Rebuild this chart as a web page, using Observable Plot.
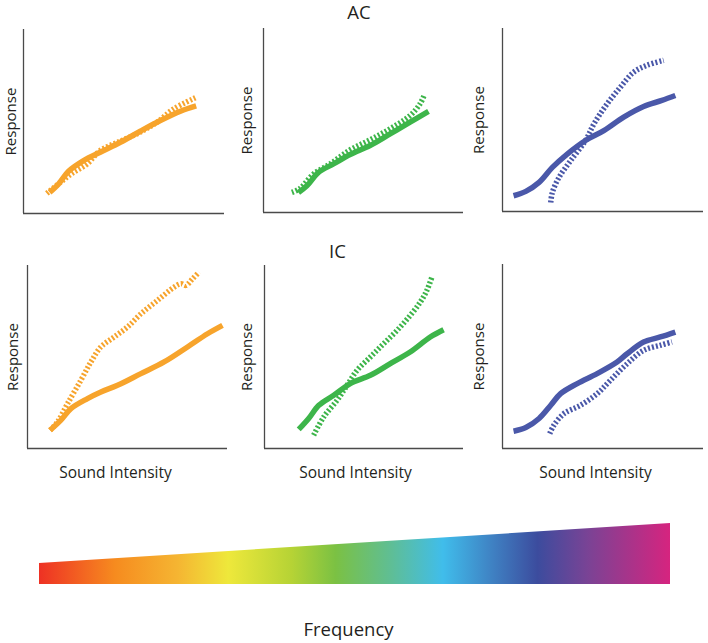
<!DOCTYPE html>
<html>
<head>
<meta charset="utf-8">
<script src="https://cdn.jsdelivr.net/npm/d3@7"></script>
<script src="https://cdn.jsdelivr.net/npm/@observablehq/plot@0.6"></script>
<style>
  html, body { margin: 0; padding: 0; background: #fff; }
  #root { position: relative; width: 708px; height: 643px; overflow: hidden; font-family: "Open Sans", sans-serif; }
  .panel { position: absolute; }
  .panel svg { overflow: visible; }
</style>
</head>
<body>
<div id="root"></div>
<script>
// ---------- Data (x: sound intensity 0–100, y: response 0–100) ----------
// AC, low frequency (orange)
const acLowSolidX  = [13.0, 17.4, 22.4, 29.9, 38.2, 48.2, 58.1, 68.1, 78.1, 85.9];
const acLowSolidY  = [11.5, 16.0, 22.9, 28.7, 33.3, 38.7, 44.7, 50.5, 55.6, 58.5];
const acLowDashX   = [11.6, 18.3, 24.1, 31.6, 38.2, 48.2, 58.1, 66.4, 74.8, 85.5];
const acLowDashY   = [10.9, 16.9, 21.8, 26.9, 34.2, 39.3, 44.2, 49.6, 56.9, 62.9];
// AC, mid frequency (green)
const acMidSolidX  = [17.5, 21.7, 27.5, 35.0, 43.3, 53.3, 63.3, 73.3, 82.5];
const acMidSolidY  = [10.9, 14.5, 21.8, 26.4, 31.5, 36.4, 42.7, 49.1, 54.9];
const acMidDashX   = [14.2, 18.3, 25.0, 33.3, 43.3, 53.3, 63.3, 73.3, 78.3, 80.5];
const acMidDashY   = [10.9, 13.1, 20.9, 26.4, 34.0, 39.5, 45.5, 52.7, 59.1, 64.2];
// AC, high frequency (blue)
const acHighSolidX = [5.5, 11.6, 18.2, 24.8, 32.2, 41.3, 50.4, 60.3, 70.2, 79.3, 86.0];
const acHighSolidY = [8.6, 11.0, 15.9, 24.1, 31.4, 38.8, 44.2, 51.6, 57.4, 60.7, 63.4];
const acHighDashX  = [24.0, 24.8, 28.1, 33.9, 41.3, 45.5, 52.1, 58.7, 65.3, 71.9, 80.2];
const acHighDashY  = [4.9, 10.4, 18.6, 27.8, 38.8, 47.9, 58.9, 68.0, 76.2, 79.9, 82.6];
// IC, low frequency (orange)
const icLowSolidX  = [11.3, 16.7, 21.7, 30.0, 36.7, 45.0, 56.7, 68.3, 80.0, 90.0, 97.5];
const icLowSolidY  = [10.0, 15.5, 21.8, 27.3, 30.9, 34.5, 40.9, 47.3, 55.5, 62.7, 67.3];
const icLowDashX   = [11.3, 15.0, 20.0, 26.7, 31.7, 36.7, 43.3, 50.0, 56.7, 65.0, 73.3, 76.7, 79.2, 82.5, 85.8];
const icLowDashY   = [10.0, 14.5, 24.5, 37.3, 47.3, 55.5, 60.9, 66.4, 73.6, 80.9, 88.2, 90.0, 89.1, 92.7, 96.4];
// IC, mid frequency (green)
const icMidSolidX  = [17.2, 22.2, 27.3, 34.8, 43.1, 53.2, 63.2, 73.2, 83.3, 90.0];
const icMidSolidY  = [10.4, 16.4, 23.6, 29.1, 35.5, 40.0, 46.4, 52.7, 60.9, 64.9];
const icMidDashX   = [24.7, 29.8, 36.5, 41.5, 46.5, 53.2, 59.9, 66.6, 73.2, 78.3, 81.6, 84.1];
const icMidDashY   = [7.3, 17.3, 26.4, 34.5, 42.7, 50.0, 57.3, 64.5, 72.7, 80.0, 86.4, 93.6];
// IC, high frequency (blue)
const icHighSolidX = [5.5, 11.6, 18.2, 24.0, 28.9, 37.2, 47.1, 57.0, 62.0, 70.2, 78.5, 86.0];
const icHighSolidY = [9.4, 11.4, 16.3, 23.5, 29.8, 35.3, 40.7, 47.0, 51.5, 57.9, 60.6, 63.3];
const icHighDashX  = [23.5, 25.6, 30.6, 38.8, 47.1, 53.7, 62.0, 70.2, 78.5, 84.3];
const icHighDashY  = [8.1, 12.7, 19.0, 23.5, 29.8, 37.1, 46.1, 53.3, 56.1, 57.9];

// Frequency wedge
const wedgeFreq   = [0, 1];
const wedgeHeight = [1, 2.9];
const gradOffsets = [0, 0.12, 0.22, 0.30, 0.40, 0.47, 0.56, 0.64, 0.72, 0.79, 0.87, 1];
const gradColors  = ["#EE3124", "#F68B1F", "#F5B532", "#EEE83B", "#B6D335", "#7BC143", "#5EBE97", "#40BDEB", "#3F80C2", "#3C4C9E", "#7A4395", "#D6247F"];

// Labels
const rowTitles = ["AC", "IC"];
const yLabel = "Response";
const xLabel = "Sound Intensity";
const wedgeLabel = "Frequency";

// ---------- Drawing ----------
const ORANGE = "#F7A42C", GREEN = "#3DB54A", BLUE = "#4A58A9";
const INK = "#231F20", AXIS = "#4a4a4a";
const FONT = "'Open Sans', sans-serif";
const pts = (xs, ys) => xs.map((x, i) => ({x, y: ys[i]}));

const panels = [
  {x0: 23,  y0: 29,  w: 201, h: 184, color: ORANGE, s: [acLowSolidX, acLowSolidY],   d: [acLowDashX, acLowDashY],   ldx: -12},
  {x0: 263, y0: 28,  w: 200, h: 184, color: GREEN,  s: [acMidSolidX, acMidSolidY],   d: [acMidDashX, acMidDashY],   ldx: -16, title: rowTitles[0], tdx: -4.5, tdy: -10},
  {x0: 502, y0: 28,  w: 201, h: 183, color: BLUE,   s: [acHighSolidX, acHighSolidY], d: [acHighDashX, acHighDashY], ldx: -23.5},
  {x0: 27,  y0: 265, w: 200, h: 183, color: ORANGE, s: [icLowSolidX, icLowSolidY],   d: [icLowDashX, icLowDashY],   ldx: -14.5, xl: true, xdx: -12},
  {x0: 264, y0: 265, w: 199, h: 183, color: GREEN,  s: [icMidSolidX, icMidSolidY],   d: [icMidDashX, icMidDashY],   ldx: -17.5, xl: true, xdx: -8.5, title: rowTitles[1], tdx: -26.5, tdy: -8},
  {x0: 502, y0: 264, w: 201, h: 184, color: BLUE,   s: [icHighSolidX, icHighSolidY], d: [icHighDashX, icHighDashY], ldx: -23.5, xl: true, xdx: -7.5}
];

const root = document.getElementById("root");
const mL = 30, mT = 26, mR = 5, mB = 40;

for (const p of panels) {
  const marks = [
    Plot.ruleX([0], {stroke: AXIS, strokeWidth: 1.3}),
    Plot.ruleY([0], {stroke: AXIS, strokeWidth: 1.3}),
    Plot.line(pts(p.s[0], p.s[1]), {x: "x", y: "y", stroke: p.color, strokeWidth: 5.5, curve: "catmull-rom", strokeLinecap: "butt"}),
    Plot.line(pts(p.d[0], p.d[1]), {x: "x", y: "y", stroke: p.color, strokeWidth: 5.5, curve: "catmull-rom", strokeDasharray: "2,2", strokeLinecap: "butt"}),
    Plot.text([yLabel], {frameAnchor: "left", rotate: -90, textAnchor: "middle", lineAnchor: "middle", dx: p.ldx, fontSize: 15, fill: INK})
  ];
  if (p.xl) marks.push(Plot.text([xLabel], {frameAnchor: "bottom", textAnchor: "middle", lineAnchor: "bottom", dx: p.xdx, dy: 29, fontSize: 15.5, fill: INK}));
  if (p.title) marks.push(Plot.text([p.title], {frameAnchor: "top", textAnchor: "middle", lineAnchor: "bottom", dx: p.tdx, dy: p.tdy, fontSize: 18.5, fill: INK}));
  const chart = Plot.plot({
    width: mL + p.w + mR, height: mT + p.h + mB,
    marginLeft: mL, marginTop: mT, marginRight: mR, marginBottom: mB,
    x: {domain: [0, 100], axis: null},
    y: {domain: [0, 100], axis: null},
    style: {fontFamily: FONT, background: "transparent", overflow: "visible"},
    marks
  });
  const div = document.createElement("div");
  div.className = "panel";
  div.style.left = (p.x0 - mL) + "px";
  div.style.top = (p.y0 - mT) + "px";
  div.appendChild(chart);
  root.appendChild(div);
}

// Frequency wedge
{
  const wx0 = 39, wy0 = 523, ww = 631, wh = 61, wmB = 59;
  const chart = Plot.plot({
    width: ww, height: wh + wmB,
    marginLeft: 0, marginRight: 0, marginTop: 0, marginBottom: wmB,
    x: {domain: [0, 1], axis: null},
    y: {domain: [0, d3.max(wedgeHeight)], axis: null},
    style: {fontFamily: FONT, background: "transparent", overflow: "visible"},
    marks: [
      Plot.areaY(pts(wedgeFreq, wedgeHeight), {x: "x", y: "y", fill: "url(#freqGrad)"}),
      Plot.text([wedgeLabel], {frameAnchor: "bottom", textAnchor: "middle", lineAnchor: "bottom", dx: -6.5, dy: 51, fontSize: 18.5, fill: INK})
    ]
  });
  const defs = d3.select(chart).insert("defs", ":first-child");
  const grad = defs.append("linearGradient").attr("id", "freqGrad").attr("x1", "0").attr("x2", "1").attr("y1", "0").attr("y2", "0");
  gradOffsets.forEach((o, i) => grad.append("stop").attr("offset", o).attr("stop-color", gradColors[i]));
  const div = document.createElement("div");
  div.className = "panel";
  div.style.left = wx0 + "px";
  div.style.top = wy0 + "px";
  div.appendChild(chart);
  root.appendChild(div);
}
</script>
</body>
</html>
